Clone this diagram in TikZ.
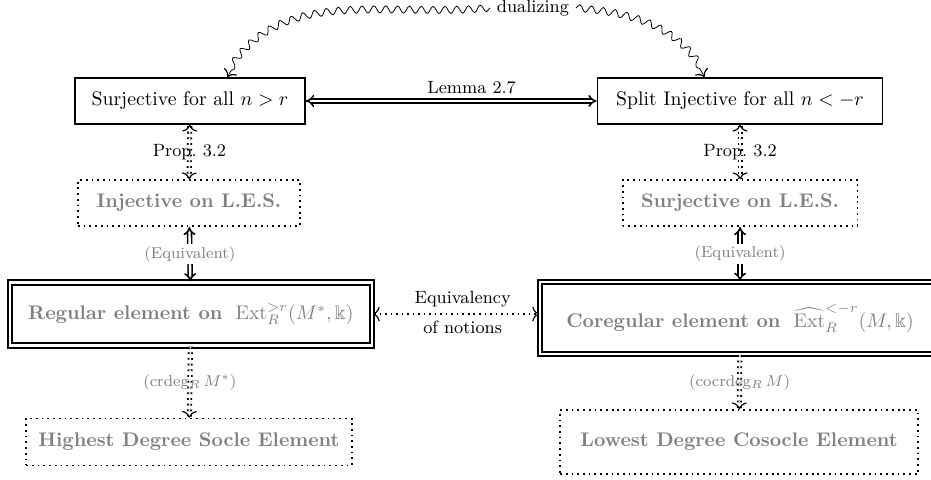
\documentclass[tikz,border=0pt]{standalone}
\usepackage{amsmath}
\usepackage{amssymb}
\usetikzlibrary{arrows.meta, decorations.pathmorphing}

\begin{document}
\begin{tikzpicture}[
        x = 1pt, y = 1pt,
        > = {To[length = 3.4pt, width = 7.5pt, line width = 0.6pt]},
        solidbox/.style = {draw, line width = 0.9pt, minimum height = 23.3pt},
        dotbox/.style = {draw, dotted, line width = 0.9pt, text = gray,
            font = \bfseries, minimum height = 23.3pt},
        ringbox/.style = {draw, double, line width = 1pt, double distance = 1.3pt,
            text = gray},
        implies/.style = {double, line width = 0.8pt, double distance = 1.2pt,
            {Implies[scale = 1.2]}-{Implies[scale = 1.2]}},
        dotimplies/.style = {double, dotted, line width = 0.9pt,
            double distance = 0.8pt},
        snakeline/.style = {%
            decorate,
            decoration = {snake, amplitude = 1.8pt, segment length = 6pt,
                post length = 3pt}
        },
        tag/.style = {font = \footnotesize, text = gray}
    ]

        % Frame of the picture.
        \useasboundingbox (0, 0) rectangle (472, -243);

        % Top row.
        \node[solidbox, minimum width = 116.6pt] (surj) at (96.3, -51.2)
            {Surjective for all $n > r$};
        \node[solidbox, minimum width = 144.5pt] (split) at (375.2, -51.2)
            {Split Injective for all $n < -r$};

        % Long exact sequence.
        \node[dotbox, minimum width = 112.6pt] (inj) at (95.8, -102.9)
            {Injective on L.E.S.};
        \node[dotbox, minimum width = 119pt] (onto) at (375.2, -102.9)
            {Surjective on L.E.S.};

        % Regular and coregular elements.
        \node[ringbox, minimum width = 183.5pt, minimum height = 32pt] (reg)
            at (96.8, -159.2)
            {\textbf{Regular element on}\ \ $\operatorname{Ext}^{>r}_R(M^*, \Bbbk)$};
        \node[ringbox, minimum width = 202.8pt, minimum height = 36.5pt] (coreg)
            at (375.2, -161.2)
            {\textbf{Coregular element on}\ \
             $\widehat{\operatorname{Ext}}^{<-r}_R(M, \Bbbk)$};

        % Socle elements.
        \node[dotbox, minimum width = 165pt, minimum height = 23.8pt] (high)
            at (95.8, -224.1) {Highest Degree Socle Element};
        \node[dotbox, minimum width = 181.5pt, minimum height = 32.4pt] (low)
            at (374.7, -224.1) {Lowest Degree Cosocle Element};

        % Dualizing.
        \node[font = \small] (dual) at (270.2, -4) {dualizing};
        \draw[->, snakeline] (dual.west) to[out = 185, in = 62]
            ([xshift = 19pt]surj.north);
        \draw[->, snakeline] (dual.east) to[out = -5, in = 118]
            ([xshift = -18pt]split.north);

        % Horizontal arrows.
        \draw[implies] (surj) -- (split)
            node[pos = 0.57, above, font = \small] {Lemma 2.7};
        \draw[<->, dotted, thick] (reg.east) -- (reg.east -| coreg.west)
            node[pos = 0.54, above, font = \small] {Equivalency}
            node[pos = 0.54, below, font = \small] {of notions};

        % Vertical arrows.
        \foreach \a/\b/\c in {surj/inj/reg, split/onto/coreg}{%
            \draw[<->, dotimplies] (\a) -- (\b)
                node[midway, font = \small] {Prop.\ 3.2};
            \draw[implies] (\b) -- (\c)
                node[midway, tag, fill = white, inner sep = 1pt] {(Equivalent)};
        }
        \draw[->, dotimplies] (reg) -- (high)
            node[midway, tag] {(crdeg$_R\,M^*$)};
        \draw[->, dotimplies] (coreg) -- (low)
            node[midway, tag] {(cocrdeg$_R\,M$)};
    \end{tikzpicture}
\end{document}
